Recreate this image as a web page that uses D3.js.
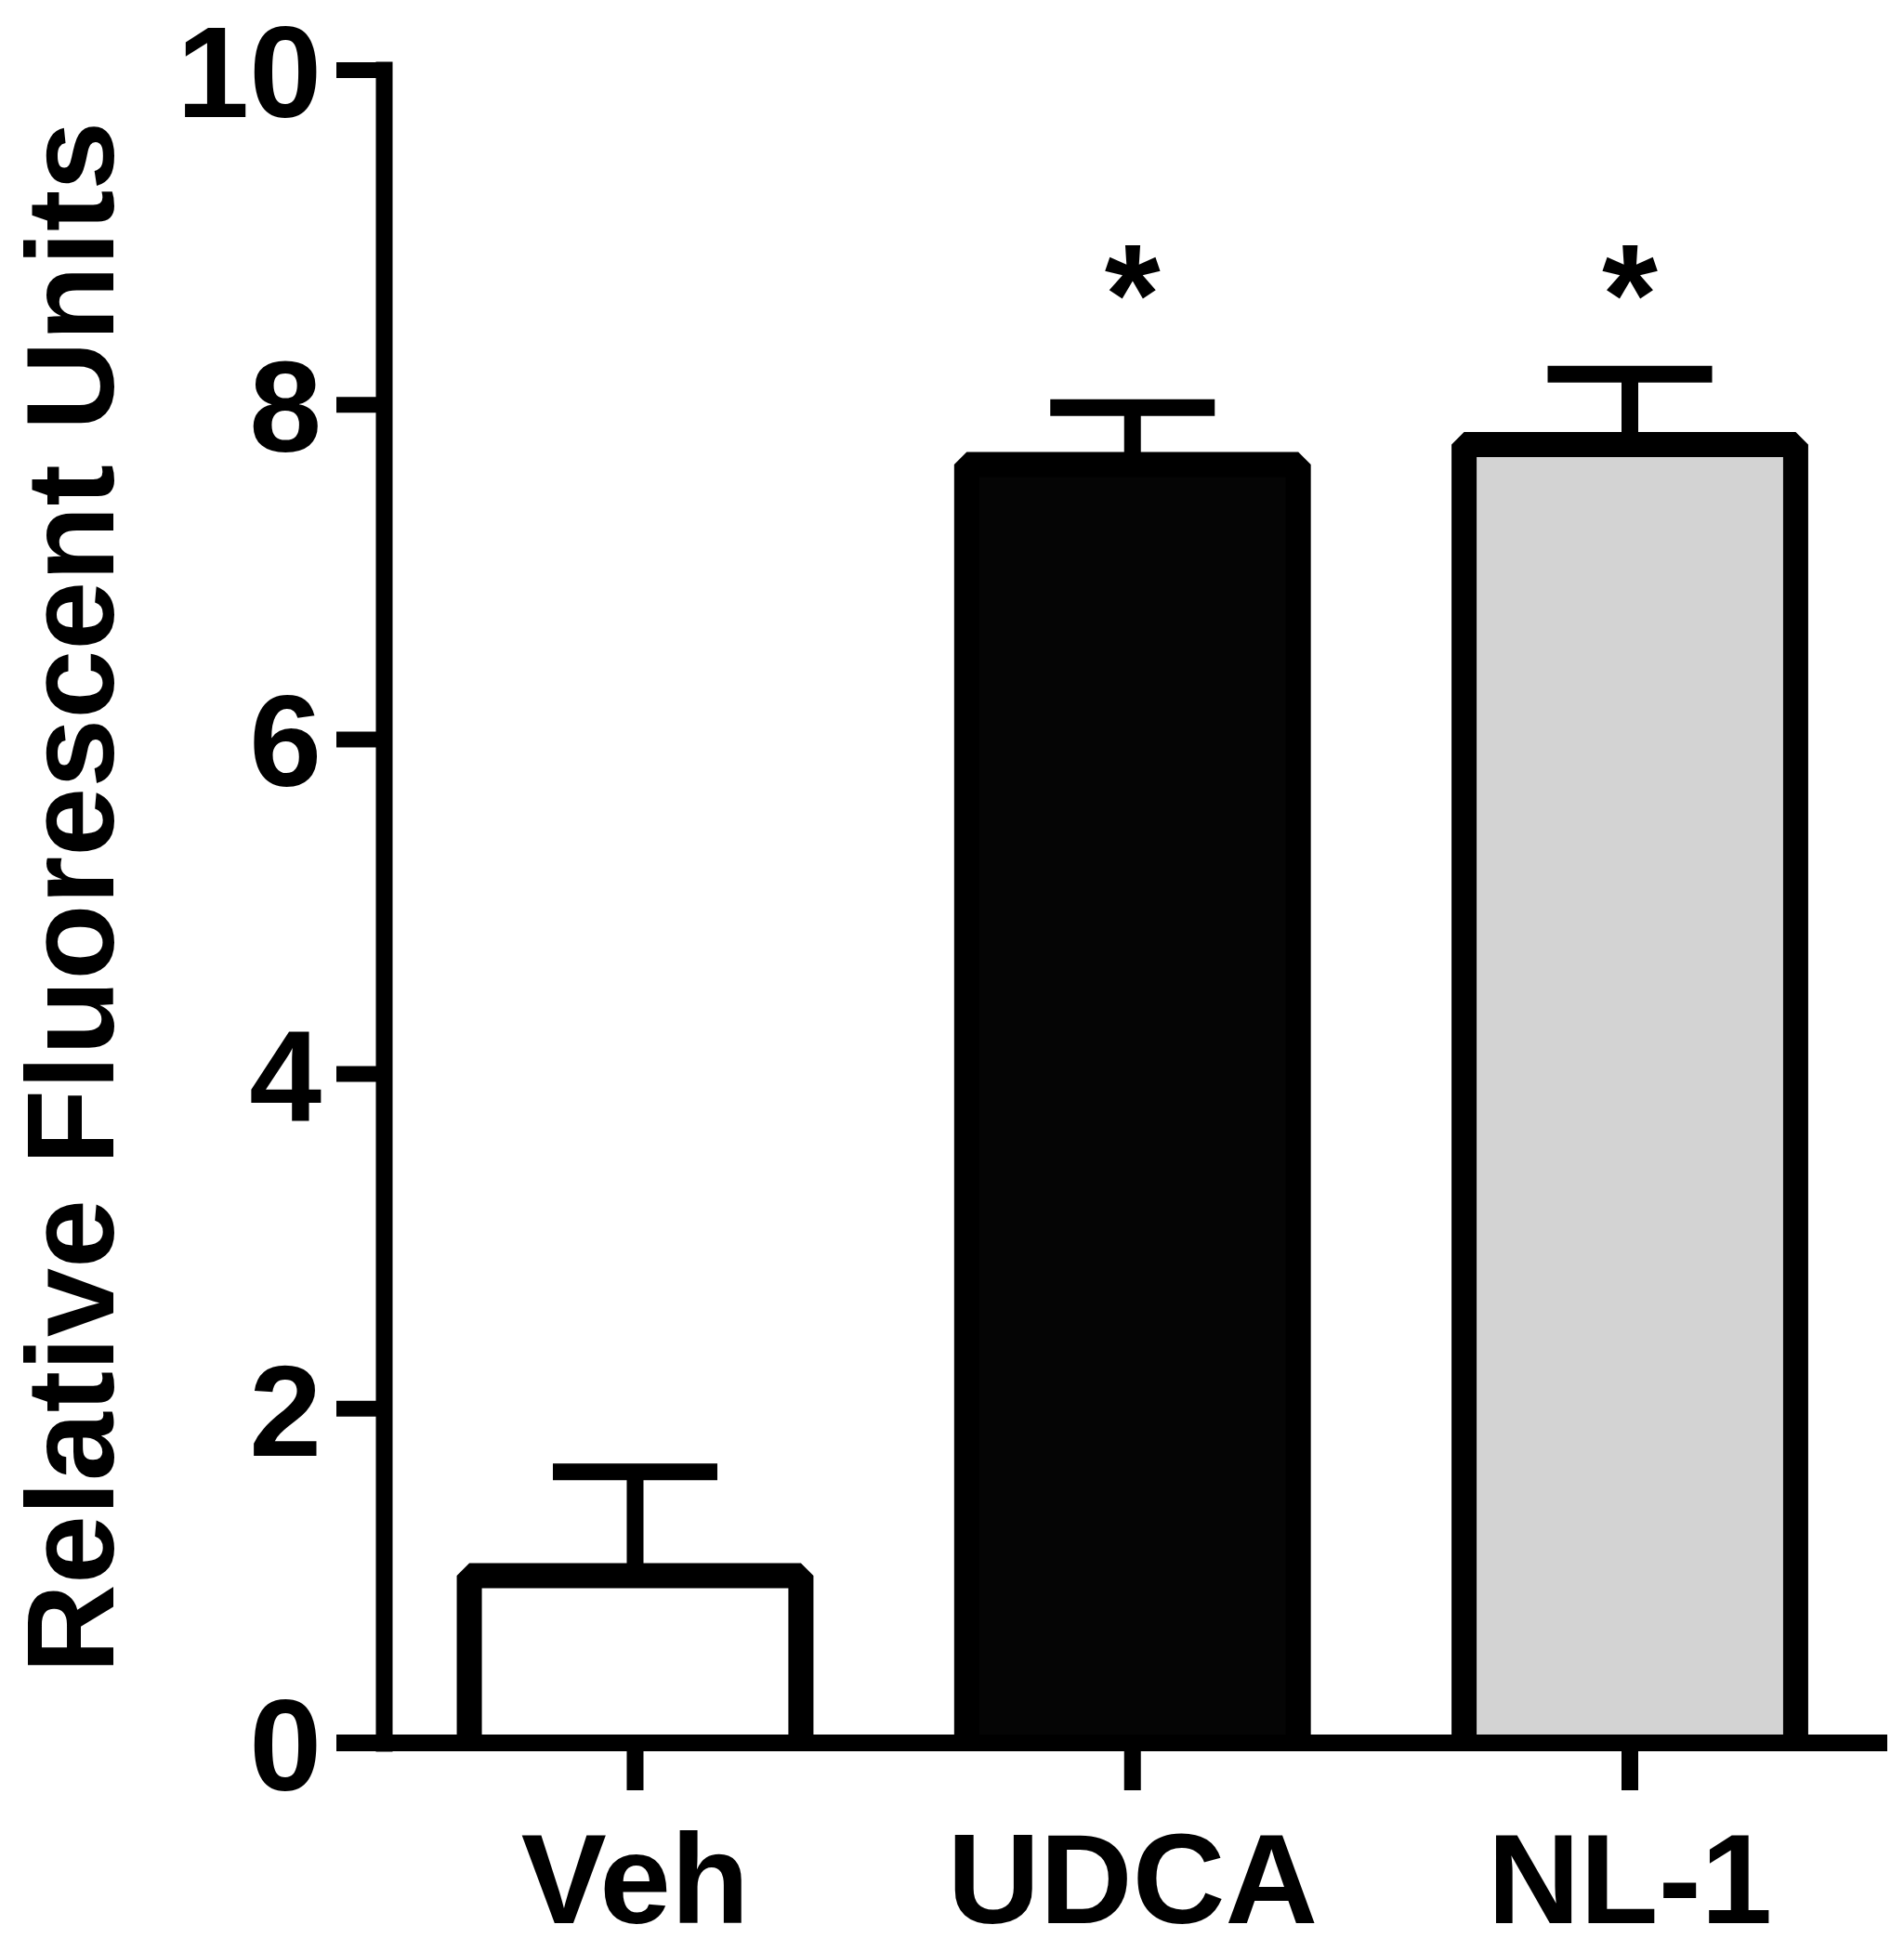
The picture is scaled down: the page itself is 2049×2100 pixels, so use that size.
<!DOCTYPE html>
<html>
<head>
<meta charset="utf-8">
<script src="https://cdn.jsdelivr.net/npm/d3@7"></script>
<style>
  html, body { margin: 0; padding: 0; background: #ffffff; }
  svg { display: block; }
  text { font-family: "Liberation Sans", Arial, Helvetica, sans-serif; }
</style>
</head>
<body>
<script>
// ---- data ----
const categories = ["Veh", "UDCA", "NL-1"];
const means = [1.0, 7.64, 7.76];
const sems = [0.62, 0.34, 0.42];
const fills = ["#ffffff", "#050505", "#d3d3d3"];
const significant = [false, true, true];
const sigLevel = 8.78;
const yTicks = [0, 2, 4, 6, 8, 10];
const yTitle = "Relative Fluorescent Units";

// ---- layout ----
const W = 2049, H = 2100;
const svg = d3.select("body").append("svg").attr("width", W).attr("height", H);

const y = d3.scaleLinear().domain([0, 10]).range([1876, 75]);
const x = d3.scaleBand().domain(categories).range([413, 2024.5])
  .paddingInner(1 / 3).paddingOuter(0.172);

const axisW = 18, barStroke = 27, capW = 177;
const rows = categories.map((c, i) => ({ c, m: means[i], s: sems[i], f: fills[i], sig: significant[i] }));

// bars
const barG = svg.append("g");
rows.forEach(d => {
  const x0 = x(d.c), x1 = x(d.c) + x.bandwidth();
  const cx = x(d.c) + x.bandwidth() / 2;
  barG.append("line")
    .attr("x1", cx).attr("x2", cx)
    .attr("y1", y(d.m)).attr("y2", y(d.m + d.s))
    .attr("stroke", "#000").attr("stroke-width", axisW);
  barG.append("line")
    .attr("x1", cx - capW / 2).attr("x2", cx + capW / 2)
    .attr("y1", y(d.m + d.s)).attr("y2", y(d.m + d.s))
    .attr("stroke", "#000").attr("stroke-width", axisW);
  const p = d3.path();
  p.moveTo(x0, y(0)); p.lineTo(x0, y(d.m)); p.lineTo(x1, y(d.m)); p.lineTo(x1, y(0));
  barG.append("path")
    .attr("d", p.toString())
    .attr("fill", d.f)
    .attr("stroke", "#000")
    .attr("stroke-width", barStroke)
    .attr("stroke-linejoin", "bevel");
  if (d.sig) {
    const fs = 154;
    barG.append("text")
      .attr("x", cx).attr("y", y(sigLevel) + 0.49 * fs)
      .attr("text-anchor", "middle")
      .attr("font-size", fs)
      .attr("font-weight", "bold")
      .attr("fill", "#000")
      .text("*");
  }
});

// y axis
const yAxis = d3.axisLeft(y).tickValues(yTicks).tickFormat(d3.format("d"))
  .tickSize(51).tickSizeOuter(0).tickPadding(16);
const yg = svg.append("g").attr("transform", "translate(413,0)").call(yAxis);
yg.select(".domain").attr("stroke", "#000").attr("stroke-width", axisW).attr("stroke-linecap", "square");
yg.selectAll(".tick line").attr("stroke", "#000").attr("stroke-width", 17);
yg.selectAll(".tick text")
  .attr("font-size", 140).attr("font-weight", "bold").attr("fill", "#000")
  .attr("font-family", "'Liberation Sans', Arial, sans-serif")
  .attr("dy", "0.36em");

// x axis
const xAxis = d3.axisBottom(x).tickSize(51).tickSizeOuter(0).tickPadding(45);
const xg = svg.append("g").attr("transform", `translate(0,${y(0)})`).call(xAxis);
xg.select(".domain").remove();
xg.append("line").attr("x1", 362).attr("x2", 2031).attr("y1", 0).attr("y2", 0)
  .attr("stroke", "#000").attr("stroke-width", axisW);
xg.selectAll(".tick line").attr("stroke", "#000").attr("stroke-width", 18);
xg.selectAll(".tick text")
  .attr("font-size", 138).attr("font-weight", "bold").attr("fill", "#000")
  .attr("font-family", "'Liberation Sans', Arial, sans-serif")
  .attr("dy", "0.71em");

// y title
svg.append("text")
  .attr("transform", `translate(122,${966}) rotate(-90)`)
  .attr("text-anchor", "middle")
  .attr("font-size", 133).attr("font-weight", "bold").attr("fill", "#000")
  .text(yTitle);
</script>
</body>
</html>
